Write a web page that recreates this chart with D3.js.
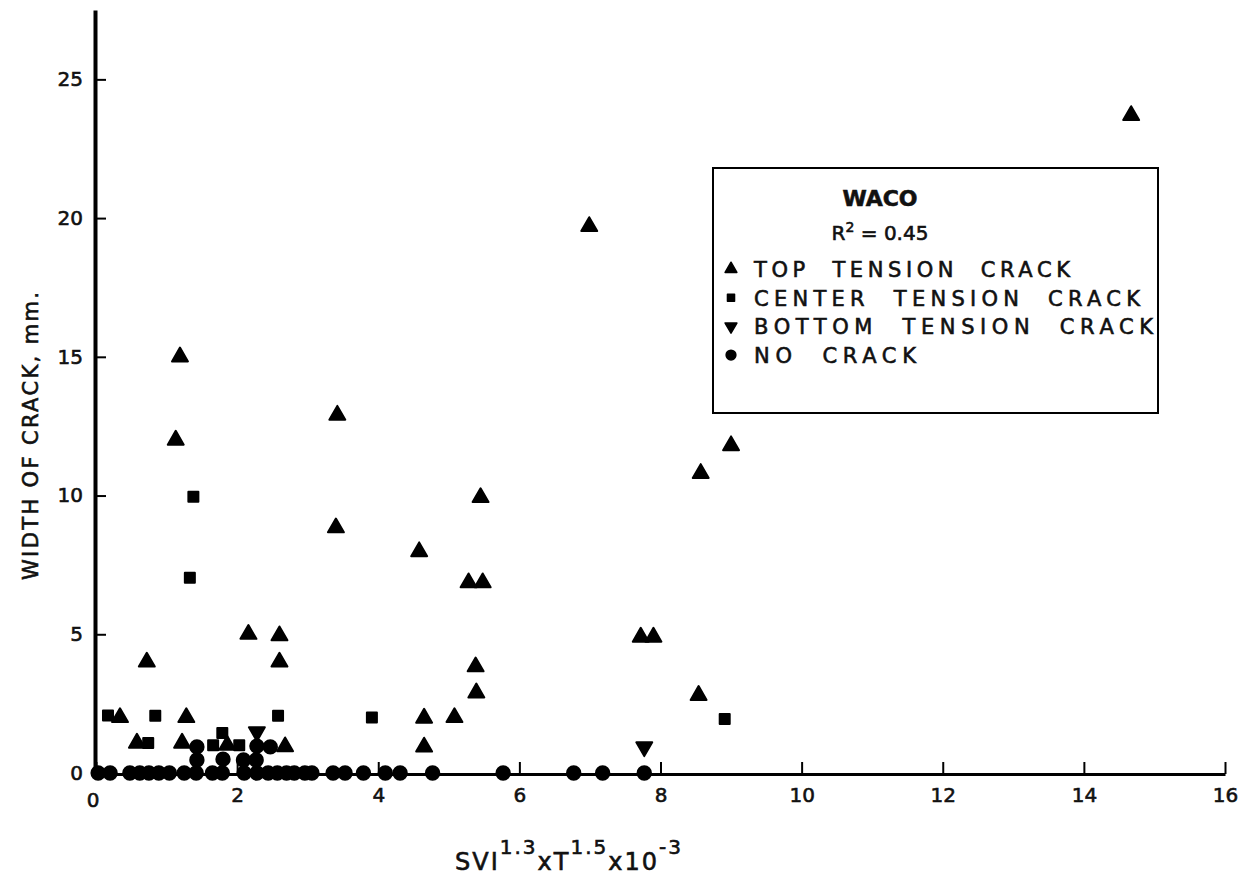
<!DOCTYPE html>
<html><head><meta charset="utf-8">
<script src="https://cdn.jsdelivr.net/npm/d3@7"></script>
<style>
body{margin:0;background:#fff;}
text{font-family:"DejaVu Sans",sans-serif;fill:#111;stroke:#111;stroke-width:0.6px;}
</style></head>
<body><svg id="c" width="1239" height="875"></svg>
<script>
// Data
const topTension = [[0.34,2.0],[0.72,4.0],[0.58,1.08],[1.13,12.0],[1.19,15.0],[1.28,2.0],[1.22,1.08],[1.86,1.0],
  [2.16,5.0],[2.6,4.95],[2.6,4.0],[2.68,0.95],[3.40,8.84],[3.42,12.9],[4.58,7.98],[4.65,1.98],[4.65,0.94],
  [5.08,2.0],[5.28,6.86],[5.48,6.86],[5.38,3.83],[5.39,2.89],[5.45,9.93],[6.99,19.7],[7.72,4.9],[7.90,4.9],
  [8.54,2.8],[8.57,10.8],[9.0,11.8],[14.67,23.7]];
const centerTension = [[0.17,2.07],[0.74,1.08],[0.84,2.06],[1.33,7.04],[1.38,9.96],[1.66,1.0],[1.79,1.44],
  [2.03,1.0],[2.58,2.06],[3.91,2.0],[8.91,1.95]];
const bottomTension = [[2.28,1.48],[7.77,0.94]];
const noCrack = [[0.03,0],[0.2,0],[0.48,0],[0.62,0],[0.75,0],[0.89,0],[1.04,0],[1.25,0],[1.42,0],[1.65,0],
  [1.79,0],[2.1,0],[2.28,0],[2.44,0],[2.57,0],[2.7,0],[2.81,0],[2.96,0],[3.06,0],[3.36,0],[3.53,0],[3.79,0],
  [4.1,0],[4.31,0],[4.77,0],[5.77,0],[6.77,0],[7.18,0],[7.77,0],
  [1.43,0.94],[2.28,0.97],[2.47,0.94],[1.43,0.47],[1.80,0.5],[2.09,0.47],[2.27,0.47]];
const xTicks = [0,2,4,6,8,10,12,14,16];
const yTicks = [0,5,10,15,20,25];
const legendLabels = ["TOP  TENSION  CRACK","CENTER  TENSION  CRACK","BOTTOM  TENSION  CRACK","NO  CRACK"];

const svg = d3.select("#c");
const x = d3.scaleLinear().domain([0,16]).range([96,1225]);
const y = d3.scaleLinear().domain([0,27.5]).range([773,10]);

// Y axis
const ya = svg.append("g").attr("transform","translate(95,0)")
  .call(d3.axisLeft(y).tickValues(yTicks).tickSizeInner(-11).tickSizeOuter(0).tickPadding(12).tickFormat(d3.format("d")));
ya.select(".domain").attr("stroke","#000").attr("stroke-width",4);
ya.selectAll(".tick line").attr("stroke","#000").attr("stroke-width",2);
ya.selectAll(".tick text").style("font-size","20px").style("font-family","DejaVu Sans").attr("fill","#111");

// X axis
const xa = svg.append("g").attr("transform","translate(0,774)")
  .call(d3.axisBottom(x).tickValues(xTicks).tickSizeInner(-12).tickSizeOuter(0).tickPadding(14).tickFormat(d=> d===0?"":d3.format("d")(d)));
xa.select(".domain").attr("stroke","#000").attr("stroke-width",3);
xa.selectAll(".tick line").attr("stroke","#000").attr("stroke-width",2);
xa.selectAll(".tick text").style("font-size","20px").style("font-family","DejaVu Sans").attr("fill","#111");
svg.append("text").attr("x",x(0)-3).attr("y",807).attr("text-anchor","middle").style("font-size","20px").text("0");

// markers
const tri = d3.symbol().type(d3.symbolTriangle).size(110);
const sq = d3.symbol().type(d3.symbolSquare).size(100);
const circ = d3.symbol().type(d3.symbolCircle).size(140);
function plot(data, gen, rot){
  svg.append("g").selectAll("path").data(data).join("path")
    .attr("d", gen())
    .attr("transform", d=>`translate(${x(d[0])},${y(d[1])}) rotate(${rot})`)
    .attr("fill","#000").attr("stroke","#000").attr("stroke-width",2).attr("stroke-linejoin","round");
}
plot(noCrack, circ, 0);
plot(topTension, tri, 0);
plot(centerTension, sq, 0);
plot(bottomTension, tri, 180);

// Legend
const lg = svg.append("g");
lg.append("rect").attr("x",713).attr("y",168).attr("width",445).attr("height",245)
  .attr("fill","#fff").attr("stroke","#000").attr("stroke-width",2);
lg.append("text").attr("x",880).attr("y",206).attr("text-anchor","middle")
  .style("font-size","22px").style("font-weight","bold").text("WACO");
const r2 = lg.append("text").attr("x",880).attr("y",240).attr("text-anchor","middle").style("font-size","20px");
r2.append("tspan").text("R");
r2.append("tspan").attr("dy",-8).style("font-size","14px").text("2");
r2.append("tspan").attr("dy",8).text(" = 0.45");
const legGens = [[d3.symbolTriangle,60,0],[d3.symbolSquare,50,0],[d3.symbolTriangle,60,180],[d3.symbolCircle,75,0]];
const lens = [316,386,399,162];
legendLabels.forEach((t,i)=>{
  const cy = 269 + i*28.7;
  lg.append("path").attr("d", d3.symbol().type(legGens[i][0]).size(legGens[i][1])())
    .attr("transform",`translate(731,${cy}) rotate(${legGens[i][2]})`)
    .attr("fill","#000").attr("stroke","#000").attr("stroke-width",1.5).attr("stroke-linejoin","round");
  lg.append("text").attr("x",754).attr("y",cy+8).style("font-size","21px")
    .attr("textLength",lens[i]).attr("lengthAdjust","spacing").attr("xml:space","preserve").text(t);
});

// Axis titles
svg.append("text").attr("transform","translate(38,436) rotate(-90)").attr("text-anchor","middle")
  .style("font-size","21px").attr("textLength",288).attr("lengthAdjust","spacing").text("WIDTH OF CRACK, mm.");
const xl = svg.append("text").attr("x",455).attr("y",870).style("font-size","24px").style("letter-spacing","2px");
xl.append("tspan").text("SVI");
xl.append("tspan").attr("dy",-16).style("font-size","20px").text("1.3");
xl.append("tspan").attr("dy",16).text("xT");
xl.append("tspan").attr("dy",-16).style("font-size","20px").text("1.5");
xl.append("tspan").attr("dy",16).text("x10");
xl.append("tspan").attr("dy",-16).style("font-size","20px").text("-3");
</script></body></html>
